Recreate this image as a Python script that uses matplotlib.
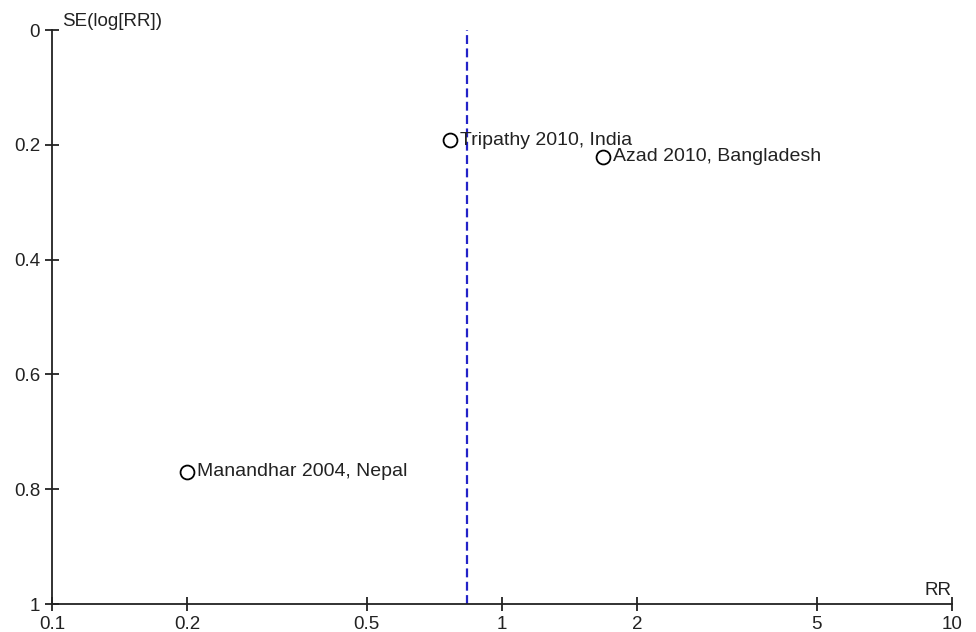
import matplotlib
matplotlib.use('Agg')
import matplotlib.pyplot as plt
from matplotlib.ticker import FixedLocator, FixedFormatter

plt.rcParams['font.family'] = ['Liberation Sans', 'DejaVu Sans']

# study estimates: relative risk and standard error of log(RR)
studies = ['Tripathy 2010, India', 'Azad 2010, Bangladesh', 'Manandhar 2004, Nepal']
rr = [0.766, 1.676, 0.20]
se = [0.192, 0.221, 0.770]
pooled_rr = 0.835

x_ticks = [0.1, 0.2, 0.5, 1, 2, 5, 10]
x_labels = ['0.1', '0.2', '0.5', '1', '2', '5', '10']
y_ticks = [0, 0.2, 0.4, 0.6, 0.8, 1]
y_labels = ['0', '0.2', '0.4', '0.6', '0.8', '1']

fig = plt.figure(figsize=(9.76, 6.32), dpi=100)
ax = fig.add_axes([0.0533, 0.0443, 0.9221, 0.9082])

ax.set_xscale('log')
ax.set_xlim(0.1, 10)
ax.set_ylim(1, 0)

ax.axvline(pooled_rr, color='#2323c8', linestyle=(0, (4, 2)), linewidth=1.6)

ax.plot(rr, se, 'o', markerfacecolor='white', markeredgecolor='black',
        markersize=10, markeredgewidth=1.3, linestyle='none')
for name, x, y in zip(studies, rr, se):
    ax.annotate(name, (x, y), xytext=(7, 0), textcoords='offset points',
                va='center', ha='left', fontsize=14, color='#222222')

ax.xaxis.set_major_locator(FixedLocator(x_ticks))
ax.xaxis.set_major_formatter(FixedFormatter(x_labels))
ax.xaxis.set_minor_locator(FixedLocator([]))
ax.yaxis.set_major_locator(FixedLocator(y_ticks))
ax.yaxis.set_major_formatter(FixedFormatter(y_labels))

for side in ['top', 'right']:
    ax.spines[side].set_visible(False)
for side in ['left', 'bottom']:
    ax.spines[side].set_linewidth(1.3)
    ax.spines[side].set_color('#222222')

ax.tick_params(direction='inout', length=10, width=1.3, labelsize=13.5,
               colors='#222222', pad=3.5)

ax.text(0.011, 1.0, 'SE(log[RR])', transform=ax.transAxes, ha='left',
        va='bottom', fontsize=13.5, color='#222222')
ax.text(1.0, 0.008, 'RR', transform=ax.transAxes, ha='right',
        va='bottom', fontsize=13.5, color='#222222')

fig.savefig('out.png', dpi=100)
